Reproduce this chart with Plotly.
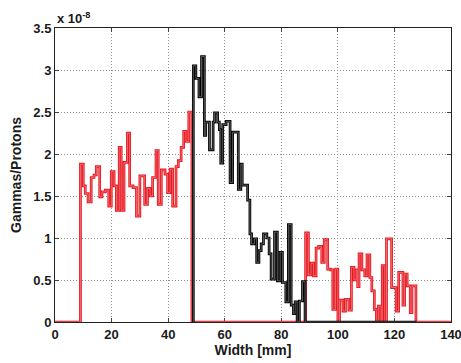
import plotly.graph_objects as go

# ---- data (values in units of 1e-8) ----
red1_x = [9.0, 10.0, 10.7, 11.7, 12.8, 13.8, 14.6, 15.8, 16.6, 17.8, 19.0, 19.9, 20.9, 21.7, 22.7,
          23.4, 24.4, 25.6, 26.4, 27.6, 28.8, 30.0, 31.7, 32.7, 33.6, 34.5, 35.7, 36.5, 37.6, 38.9,
          39.8, 40.7, 41.6, 42.8, 43.6, 44.6, 45.5, 46.3, 47.3]
red1_y = [1.88, 1.62, 1.53, 1.43, 1.72, 1.75, 1.85, 1.49, 1.55, 1.57, 1.38, 1.79, 1.62, 1.33, 2.08,
          1.33, 1.90, 2.25, 1.62, 1.60, 1.26, 1.74, 1.40, 1.59, 1.50, 1.72, 2.04, 1.40, 1.81, 1.76,
          1.54, 1.82, 1.38, 1.85, 1.92, 2.08, 2.27, 2.15, 2.50]
red1_end = 48.4

black_x = [48.9, 49.8, 50.9, 51.8, 52.8, 53.3, 54.6, 55.9, 56.4, 57.5, 58.1, 58.6, 59.3, 60.5, 61.9,
           62.8, 64.8, 65.7, 66.2, 68.1, 68.9, 69.5, 70.5, 71.3, 72.1, 72.9, 73.7, 74.9, 75.7, 76.4,
           77.6, 78.6, 79.6, 80.4, 81.6, 82.5, 83.5, 84.3, 84.9, 85.6, 86.4, 87.5]
black_y = [3.05, 2.90, 2.68, 3.16, 2.22, 2.38, 2.05, 2.38, 2.49, 2.38, 2.29, 1.89, 2.35, 2.39, 1.66,
           2.26, 1.58, 1.88, 1.63, 1.45, 1.05, 0.93, 0.99, 0.71, 0.85, 0.93, 1.05, 1.00, 0.81, 0.51,
           1.07, 0.49, 0.83, 0.47, 0.24, 1.16, 0.20, 0.10, 0.24, 0.0, 0.25, 0.48]
black_end = 88.4
black_zero_end = 127.8

red2_x = [88.6, 89.6, 90.5, 91.4, 92.3, 93.2, 94.3, 95.2, 96.4, 97.4, 98.2, 99.2, 100.0, 100.6, 101.8,
          102.7, 103.9, 104.8, 105.7, 106.5, 107.0, 107.5, 108.5, 109.5, 110.3, 111.3, 112.0, 112.9,
          113.6, 114.3, 115.3, 115.7, 116.6, 117.2, 119.0, 120.6, 121.5, 123.0, 123.6, 124.5, 125.6, 126.2]
red2_y = [1.06, 0.56, 0.70, 0.55, 0.88, 0.90, 0.71, 0.98, 0.63, 0.62, 0.15, 0.63, 0.0, 0.26, 0.13,
          0.27, 0.14, 0.65, 0.50, 0.62, 0.42, 0.81, 0.62, 0.55, 0.80, 0.53, 0.37, 0.15,
          0.0, 0.19, 0.0, 0.67, 0.0, 0.99, 0.41, 0.13, 0.59, 0.20, 0.57, 0.43, 0.11, 0.43]
red2_end = 127.6

x_min, x_max = 0, 140
x_ticks = [0, 20, 40, 60, 80, 100, 120, 140]
y_ticks = [0, 0.5, 1, 1.5, 2, 2.5, 3, 3.5]
y_ticklabels = ["0", "0.5", "1", "1.5", "2", "2.5", "3", "3.5"]

# ---- build step series ----
red_x = [x_min] + red1_x + [red1_end] + red2_x + [red2_end, x_max]
red_y = [0] + red1_y + [0] + red2_y + [0, 0]
blk_x = [black_x[0]] + black_x + [black_end, black_zero_end]
blk_y = [0] + black_y + [0, 0]

RED = "#e8161f"
RED_IN = "#f27d82"
BLK = "#000000"
BLK_IN = "#6e6e6e"

fig = go.Figure()
fig.add_trace(go.Scatter(x=red_x, y=red_y, mode="lines", line=dict(shape="hv", color=RED, width=2.7),
                         hoverinfo="skip"))
fig.add_trace(go.Scatter(x=red_x, y=red_y, mode="lines", line=dict(shape="hv", color=RED_IN, width=0.8),
                         hoverinfo="skip"))
fig.add_trace(go.Scatter(x=blk_x, y=blk_y, mode="lines", line=dict(shape="hv", color=BLK, width=2.7),
                         hoverinfo="skip"))
fig.add_trace(go.Scatter(x=blk_x, y=blk_y, mode="lines", line=dict(shape="hv", color=BLK_IN, width=0.8),
                         hoverinfo="skip"))

tick_font = dict(family="Liberation Sans, Arial, sans-serif", size=13, color="#1a1a1a", weight="bold")
title_font = dict(family="Liberation Sans, Arial, sans-serif", size=14, color="#1a1a1a", weight="bold")

fig.update_layout(
    width=461, height=363,
    margin=dict(l=55, r=10, t=28, b=41),
    paper_bgcolor="white", plot_bgcolor="white",
    showlegend=False,
    font=tick_font,
    xaxis=dict(range=[x_min, x_max], tickvals=x_ticks, ticks="inside", ticklen=4, tickcolor="#444",
               showline=True, linecolor="#222", linewidth=1, mirror="ticks",
               showgrid=True, gridcolor="#8c8c8c", griddash="1px,2px", gridwidth=1, zeroline=False,
               title=dict(text="Width [mm]", font=title_font, standoff=1), tickfont=tick_font,
               layer="below traces", automargin=False, ticklabeloverflow="allow"),
    yaxis=dict(range=[0, 3.5], tickvals=y_ticks, ticktext=y_ticklabels, ticks="inside", ticklen=4,
               tickcolor="#444", showline=True, linecolor="#222", linewidth=1, mirror="ticks",
               showgrid=True, gridcolor="#8c8c8c", griddash="1px,2px", gridwidth=1, zeroline=False,
               title=dict(text="Gammas/Protons", font=title_font, standoff=8), tickfont=tick_font,
               layer="below traces", automargin=False, ticklabeloverflow="allow"),
    annotations=[dict(text="x 10<sup>-8</sup>", xref="paper", yref="paper", x=0, y=1,
                      xanchor="left", yanchor="bottom", yshift=0, showarrow=False, font=tick_font)],
)

fig.write_html("out.html", config={"displayModeBar": False},
               post_script="document.body.style.margin='0';document.body.style.overflow='hidden';")
